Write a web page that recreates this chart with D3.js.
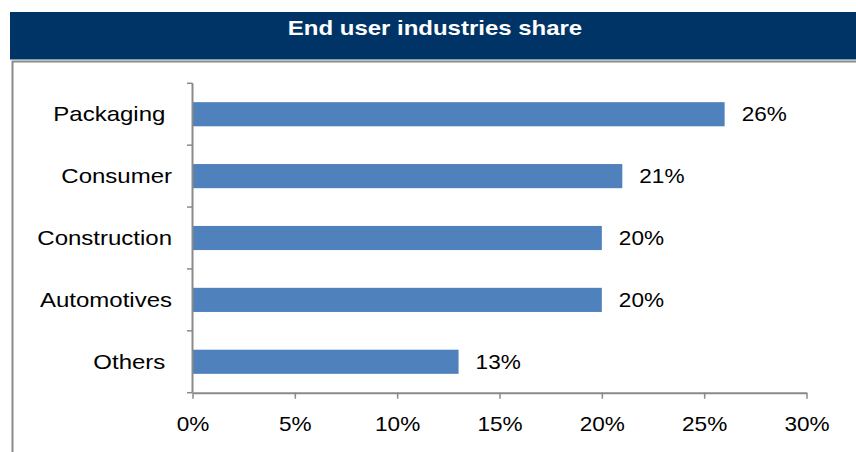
<!DOCTYPE html>
<html>
<head>
<meta charset="utf-8">
<script src="https://cdn.jsdelivr.net/npm/d3@7"></script>
<style>
  html, body { margin: 0; padding: 0; background: #fff; }
  svg { display: block; font-family: "Liberation Sans", Arial, sans-serif; }
</style>
</head>
<body>
<svg id="chart" width="856" height="452"></svg>
<script>
// End user industries share, in percent
const title = "End user industries share";
const categories = ["Packaging\u00a0", "Consumer", "Construction", "Automotives", "Others\u00a0"];
const shares = [26, 21, 20, 20, 13];
const tickValues = [0, 5, 10, 15, 20, 25, 30];

const W = 856, H = 452;
const stretch = 1.13;           // horizontal stretch of the lettering
const labelStretch = 1.2;       // category names are set a little wider
const axisColor = "#8a8a8a";
const barColor = "#4f81bd";

const svg = d3.select("#chart");

// Title band
svg.append("rect")
  .attr("x", 10).attr("y", 12).attr("width", W - 10).attr("height", 47.5)
  .attr("fill", "#003466");
svg.append("text")
  .attr("transform", `translate(${(10 + W) / 2 + 2},35.3) scale(${stretch + 0.04},1)`)
  .attr("text-anchor", "middle")
  .attr("font-size", 20.5).attr("font-weight", "bold").attr("fill", "#fff")
  .text(title);

// Frame under the title
svg.append("path")
  .attr("d", `M12.5,${H} V61.5 H${W}`)
  .attr("fill", "none").attr("stroke", axisColor).attr("stroke-width", 2);

// Scales
const x = d3.scaleLinear().domain([0, 30]).range([192.5, 806.5]);
const y = d3.scaleBand().domain(categories).range([83.3, 392.7])
  .paddingInner(0.61).paddingOuter(0.305);

// Bars
svg.append("g").selectAll("rect")
  .data(categories)
  .join("rect")
  .attr("x", x(0))
  .attr("y", d => y(d))
  .attr("width", (d, i) => x(shares[i]) - x(0))
  .attr("height", y.bandwidth())
  .attr("fill", barColor);

// Value labels
svg.append("g").selectAll("text")
  .data(categories)
  .join("text")
  .attr("transform", (d, i) => `translate(${x(shares[i]) + 17},${y(d) + y.bandwidth() / 2}) scale(${stretch},1)`)
  .attr("dy", "0.36em")
  .attr("font-size", 20).attr("fill", "#000")
  .text((d, i) => shares[i] + "%");

// Category axis: line plus ticks on band boundaries
const step = y.step();
const [y0, y1] = y.range();
const boundaries = d3.range(categories.length + 1).map(i => y0 + i * step);
const yAxis = svg.append("g");
yAxis.append("line")
  .attr("x1", x(0)).attr("x2", x(0)).attr("y1", y0).attr("y2", y1)
  .attr("stroke", axisColor).attr("stroke-width", 2);
yAxis.selectAll("line.tick")
  .data(boundaries)
  .join("line").attr("class", "tick")
  .attr("x1", x(0) - 5.5).attr("x2", x(0))
  .attr("y1", d => d).attr("y2", d => d)
  .attr("stroke", axisColor).attr("stroke-width", 1.5);
yAxis.selectAll("text")
  .data(categories)
  .join("text")
  .attr("transform", d => `translate(172,${y(d) + y.bandwidth() / 2}) scale(${labelStretch},1)`)
  .attr("text-anchor", "end")
  .attr("dy", "0.36em")
  .attr("font-size", 20).attr("fill", "#000")
  .style("white-space", "pre")
  .text(d => d);

// Value axis
const xAxis = svg.append("g")
  .attr("transform", `translate(0,${y1})`)
  .call(d3.axisBottom(x)
    .tickValues(tickValues)
    .tickFormat(d => d + "%")
    .tickSize(6)
    .tickSizeOuter(0)
    .tickPadding(18));
xAxis.select(".domain").attr("stroke", axisColor).attr("stroke-width", 2);
xAxis.selectAll(".tick line").attr("stroke", axisColor).attr("stroke-width", 1.5);
xAxis.selectAll(".tick text")
  .attr("font-family", "Liberation Sans, Arial, sans-serif")
  .attr("font-size", 20).attr("fill", "#000")
  .attr("transform", `scale(${stretch},1)`);
</script>
</body>
</html>
